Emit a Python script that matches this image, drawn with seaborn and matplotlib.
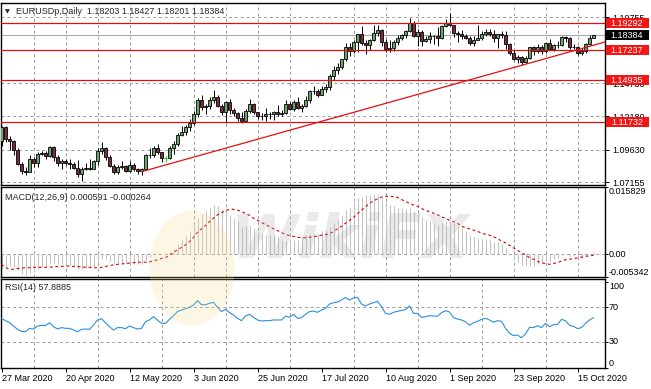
import matplotlib
matplotlib.use("Agg")
import matplotlib.pyplot as plt
import matplotlib.transforms as mtransforms
from matplotlib.patches import Rectangle, Ellipse
import numpy as np
import seaborn as sns

# ---------------- data ----------------
symbol = "EURUSDp,Daily"

opens = [
    1.1030, 1.1140, 1.1045, 1.1030, 1.0965, 1.0855, 1.0805, 1.0795, 1.0890, 1.0860,
    1.0935, 1.0940, 1.0915, 1.0985, 1.0905, 1.0865, 1.0875, 1.0860, 1.0855, 1.0825,
    1.0775, 1.0820, 1.0825, 1.0820, 1.0875, 1.0955, 1.0980, 1.0905, 1.0840, 1.0795,
    1.0830, 1.0840, 1.0805, 1.0850, 1.0815, 1.0805, 1.0820, 1.0920, 1.0925, 1.0975,
    1.0945, 1.0900, 1.0900, 1.0980, 1.1005, 1.1075, 1.1100, 1.1135, 1.1170, 1.1235,
    1.1340, 1.1290, 1.1295, 1.1345, 1.1370, 1.1300, 1.1255, 1.1325, 1.1265, 1.1245,
    1.1205, 1.1180, 1.1260, 1.1310, 1.1250, 1.1220, 1.1218, 1.1240, 1.1235, 1.1250,
    1.1240, 1.1245, 1.1310, 1.1275, 1.1330, 1.1285, 1.1300, 1.1340, 1.1410, 1.1412,
    1.1385, 1.1430, 1.1445, 1.1525, 1.1570, 1.1595, 1.1655, 1.1750, 1.1715, 1.1790,
    1.1845, 1.1778, 1.1760, 1.1800, 1.1855, 1.1875, 1.1785, 1.1735, 1.1740, 1.1785,
    1.1815, 1.1840, 1.1870, 1.1930, 1.1835, 1.1860, 1.1795, 1.1810, 1.1835, 1.1830,
    1.1820, 1.1905, 1.1935, 1.1915, 1.1855, 1.1850, 1.1835, 1.1815, 1.1780, 1.1800,
    1.1815, 1.1845, 1.1865, 1.1845, 1.1815, 1.1850, 1.1840, 1.1770, 1.1705, 1.1660,
    1.1670, 1.1630, 1.1665, 1.1745, 1.1720, 1.1750, 1.1715, 1.1780, 1.1735, 1.1760,
    1.1762, 1.1825, 1.1815, 1.1745, 1.1748, 1.1705, 1.1718, 1.1768, 1.18203,
]
highs = [
    1.1148, 1.1145, 1.1070, 1.1040, 1.0975, 1.0870, 1.0830, 1.0925, 1.0905, 1.0950,
    1.0955, 1.0955, 1.0990, 1.0990, 1.0925, 1.0895, 1.0895, 1.0890, 1.0870, 1.0885,
    1.0830, 1.0860, 1.0890, 1.0885, 1.0975, 1.1019, 1.0985, 1.0925, 1.0855, 1.0845,
    1.0875, 1.0850, 1.0875, 1.0865, 1.0825, 1.0825, 1.0930, 1.0975, 1.0995, 1.1010,
    1.0950, 1.0915, 1.0995, 1.1030, 1.1090, 1.1147, 1.1155, 1.1195, 1.1257, 1.1362,
    1.1384, 1.1310, 1.1365, 1.1422, 1.1385, 1.1310, 1.1335, 1.1350, 1.1285, 1.1255,
    1.1255, 1.1275, 1.1349, 1.1320, 1.1255, 1.1245, 1.1285, 1.1255, 1.1260, 1.1303,
    1.1265, 1.1345, 1.1330, 1.1345, 1.1370, 1.1315, 1.1375, 1.1420, 1.1452, 1.1430,
    1.1450, 1.1468, 1.1540, 1.1600, 1.1625, 1.1660, 1.1780, 1.1775, 1.1805, 1.1845,
    1.1908, 1.1805, 1.1810, 1.1915, 1.1916, 1.1885, 1.1810, 1.1805, 1.1800, 1.1840,
    1.1845, 1.1880, 1.1966, 1.1950, 1.1885, 1.1880, 1.1835, 1.1865, 1.1840, 1.1900,
    1.1915, 1.1965, 1.2011, 1.1920, 1.1870, 1.1880, 1.1850, 1.1830, 1.1830, 1.1917,
    1.1870, 1.1885, 1.1885, 1.1880, 1.1850, 1.1870, 1.1873, 1.1780, 1.1725, 1.1690,
    1.1680, 1.1680, 1.1745, 1.1755, 1.1770, 1.1765, 1.1790, 1.1810, 1.1770, 1.1795,
    1.1830, 1.1830, 1.1825, 1.1770, 1.1755, 1.1740, 1.1780, 1.1840, 1.18427,
]
lows = [
    1.0990, 1.1020, 1.0960, 1.0925, 1.0850, 1.0775, 1.0770, 1.0790, 1.0830, 1.0830,
    1.0920, 1.0890, 1.0905, 1.0880, 1.0840, 1.0815, 1.0845, 1.0815, 1.0820, 1.0755,
    1.0727, 1.0810, 1.0810, 1.0815, 1.0845, 1.0935, 1.0885, 1.0830, 1.0780, 1.0780,
    1.0815, 1.0790, 1.0795, 1.0805, 1.0775, 1.0770, 1.0810, 1.0900, 1.0905, 1.0935,
    1.0870, 1.0870, 1.0890, 1.0935, 1.0990, 1.1065, 1.1080, 1.1110, 1.1155, 1.1215,
    1.1265, 1.1240, 1.1275, 1.1320, 1.1290, 1.1230, 1.1168, 1.1240, 1.1220, 1.1185,
    1.1168, 1.1175, 1.1245, 1.1240, 1.1200, 1.1190, 1.1185, 1.1200, 1.1190, 1.1225,
    1.1225, 1.1240, 1.1265, 1.1260, 1.1275, 1.1255, 1.1290, 1.1320, 1.1390, 1.1370,
    1.1380, 1.1405, 1.1420, 1.1495, 1.1540, 1.1580, 1.1640, 1.1680, 1.1700, 1.1710,
    1.1760, 1.1695, 1.1725, 1.1795, 1.1835, 1.1755, 1.1710, 1.1710, 1.1715, 1.1765,
    1.1800, 1.1815, 1.1860, 1.1825, 1.1755, 1.1755, 1.1785, 1.1780, 1.1770, 1.1755,
    1.1810, 1.1900, 1.1910, 1.1825, 1.1790, 1.1810, 1.1810, 1.1765, 1.1755, 1.1800,
    1.1800, 1.1835, 1.1830, 1.1790, 1.1737, 1.1820, 1.1735, 1.1685, 1.1650, 1.1625,
    1.1612, 1.1625, 1.1655, 1.1685, 1.1700, 1.1695, 1.1705, 1.1730, 1.1720, 1.1740,
    1.1755, 1.1790, 1.1735, 1.1735, 1.1690, 1.1690, 1.1705, 1.1760, 1.18201,
]
closes = [
    1.1140, 1.1045, 1.1030, 1.0965, 1.0855, 1.0805, 1.0795, 1.0890, 1.0860, 1.0935,
    1.0940, 1.0915, 1.0985, 1.0905, 1.0865, 1.0875, 1.0860, 1.0855, 1.0825, 1.0775,
    1.0820, 1.0825, 1.0820, 1.0875, 1.0955, 1.0980, 1.0905, 1.0840, 1.0795, 1.0830,
    1.0840, 1.0805, 1.0850, 1.0815, 1.0805, 1.0820, 1.0920, 1.0925, 1.0975, 1.0945,
    1.0900, 1.0900, 1.0980, 1.1005, 1.1075, 1.1100, 1.1135, 1.1170, 1.1235, 1.1340,
    1.1290, 1.1295, 1.1345, 1.1370, 1.1300, 1.1255, 1.1325, 1.1265, 1.1245, 1.1205,
    1.1180, 1.1260, 1.1310, 1.1250, 1.1220, 1.1218, 1.1240, 1.1235, 1.1250, 1.1240,
    1.1245, 1.1310, 1.1275, 1.1330, 1.1285, 1.1300, 1.1340, 1.1410, 1.1412, 1.1385,
    1.1430, 1.1445, 1.1525, 1.1570, 1.1595, 1.1655, 1.1750, 1.1715, 1.1790, 1.1845,
    1.1778, 1.1760, 1.1800, 1.1855, 1.1875, 1.1785, 1.1735, 1.1740, 1.1785, 1.1815,
    1.1840, 1.1870, 1.1930, 1.1835, 1.1860, 1.1795, 1.1810, 1.1835, 1.1830, 1.1820,
    1.1905, 1.1935, 1.1915, 1.1855, 1.1850, 1.1835, 1.1815, 1.1780, 1.1800, 1.1815,
    1.1845, 1.1865, 1.1845, 1.1815, 1.1850, 1.1840, 1.1770, 1.1705, 1.1660, 1.1670,
    1.1630, 1.1665, 1.1745, 1.1720, 1.1750, 1.1715, 1.1780, 1.1735, 1.1760, 1.1762,
    1.1825, 1.1815, 1.1745, 1.1748, 1.1705, 1.1718, 1.1768, 1.1820, 1.18384,
]

macd_main = [
    -0.0036, -0.0031, -0.0028, -0.0030, -0.0038, -0.0046, -0.0049, -0.0044, -0.0041, -0.0035,
    -0.0030, -0.0027, -0.0021, -0.0020, -0.0022, -0.0023, -0.0025, -0.0026, -0.0029, -0.0034,
    -0.0034, -0.0033, -0.0032, -0.0028, -0.0020, -0.0012, -0.0012, -0.0016, -0.0022, -0.0023,
    -0.0022, -0.0024, -0.0021, -0.0022, -0.0023, -0.0022, -0.0013, -0.0006, 0.0001, 0.0003,
    0.0001, 0.0000, 0.0006, 0.0013, 0.0024, 0.0034, 0.0044, 0.0054, 0.0068, 0.0085,
    0.0094, 0.0102, 0.0110, 0.0116, 0.0114, 0.0107, 0.0103, 0.0093, 0.0084, 0.0078,
    0.0064, 0.0066, 0.0070, 0.0063, 0.0052, 0.0047, 0.0045, 0.0045, 0.0043, 0.0040,
    0.0034, 0.0030, 0.0036, 0.0033, 0.0034, 0.0040, 0.0045, 0.0048, 0.0047, 0.0050,
    0.0054, 0.0057, 0.0065, 0.0074, 0.0082, 0.0092, 0.0105, 0.0112, 0.0123, 0.0133,
    0.0136, 0.0139, 0.0141, 0.0142, 0.0141, 0.0134, 0.0124, 0.0117, 0.0113, 0.0110,
    0.0108, 0.0107, 0.0110, 0.0101, 0.0096, 0.0087, 0.0081, 0.0078, 0.0074, 0.0070,
    0.0073, 0.0078, 0.0079, 0.0073, 0.0067, 0.0061, 0.0054, 0.0046, 0.0041, 0.0038,
    0.0037, 0.0037, 0.0034, 0.0029, 0.0028, 0.0025, 0.0014, 0.0000, -0.0011, -0.0019,
    -0.0026, -0.0029, -0.0028, -0.0027, -0.0024, -0.0023, -0.0017, -0.0015, -0.0011, -0.0009,
    -0.0003, -0.0001, -0.0004, -0.0005, -0.0008, -0.0008, -0.0004, 0.0001, 0.000591,
]
macd_signal = [
    -0.0024, -0.0032, -0.0035, -0.0036, -0.0034, -0.0033, -0.0032, -0.0032, -0.0031, -0.0031,
    -0.0031, -0.0031, -0.0031, -0.0030, -0.0029, -0.0029, -0.0028, -0.0028, -0.0029, -0.0029,
    -0.0030, -0.0031, -0.0031, -0.0032, -0.0032, -0.0031, -0.0029, -0.0027, -0.0025, -0.0024,
    -0.0023, -0.0022, -0.0021, -0.0020, -0.0019, -0.0019, -0.0019, -0.0018, -0.0016, -0.0013,
    -0.0010, -0.0008, -0.0002, 0.0004, 0.0010, 0.0016, 0.0022, 0.0030, 0.0040, 0.0052,
    0.0060, 0.0068, 0.0077, 0.0085, 0.0093, 0.0098, 0.0103, 0.0106, 0.0106, 0.0104,
    0.0101, 0.0096, 0.0092, 0.0085, 0.0080, 0.0075, 0.0070, 0.0065, 0.0060, 0.0056,
    0.0051, 0.0047, 0.0044, 0.0042, 0.0040, 0.0039, 0.0039, 0.0040, 0.0041, 0.0043,
    0.0045, 0.0046, 0.0049, 0.0053, 0.0060, 0.0066, 0.0073, 0.0080, 0.0087, 0.0096,
    0.0104, 0.0112, 0.0120, 0.0126, 0.0131, 0.0135, 0.0137, 0.0137, 0.0136, 0.0134,
    0.0129, 0.0125, 0.0120, 0.0116, 0.0113, 0.0108, 0.0104, 0.0100, 0.0097, 0.0093,
    0.0088, 0.0085, 0.0080, 0.0077, 0.0073, 0.0066, 0.0063, 0.0060, 0.0057, 0.0054,
    0.0050, 0.0047, 0.0045, 0.0041, 0.0037, 0.0031, 0.0027, 0.0021, 0.0015, 0.0009,
    0.0004, -0.0002, -0.0008, -0.0012, -0.0017, -0.0020, -0.0022, -0.0024, -0.0022, -0.0020,
    -0.0016, -0.0013, -0.0012, -0.0010, -0.0009, -0.0007, -0.0005, -0.0004, -0.000264,
]
rsi = [
    57.2, 54.5, 52.2, 48.3, 44.4, 42.1, 41.7, 45.6, 44.8, 48.3,
    49.1, 48.7, 52.2, 47.5, 44.8, 46.4, 45.6, 45.6, 43.6, 41.7,
    44.4, 44.8, 44.4, 49.5, 55.3, 56.8, 52.2, 47.5, 43.6, 46.4,
    46.4, 45.2, 48.3, 46.4, 44.8, 45.6, 53.3, 55.3, 59.1, 55.3,
    51.4, 51.4, 56.0, 60.3, 65.0, 66.9, 68.4, 70.0, 72.7, 77.8,
    73.1, 73.1, 74.7, 75.8, 70.0, 65.0, 67.7, 63.8, 61.1, 57.2,
    54.5, 59.9, 61.9, 58.4, 55.3, 54.1, 54.5, 54.5, 55.3, 55.3,
    55.3, 59.9, 58.4, 61.9, 57.2, 58.0, 61.9, 65.0, 65.7, 64.2,
    66.9, 68.8, 73.9, 75.4, 76.2, 78.5, 81.6, 78.5, 80.9, 81.6,
    73.9, 71.6, 73.9, 75.4, 77.0, 70.8, 63.0, 61.9, 64.2, 65.3,
    66.5, 67.3, 71.6, 63.0, 63.0, 58.4, 59.1, 60.3, 59.9, 59.5,
    63.8, 66.1, 64.6, 58.0, 56.4, 55.3, 53.3, 49.1, 52.2, 53.7,
    56.0, 57.2, 55.3, 52.6, 54.5, 53.7, 45.6, 39.8, 37.1, 37.8,
    34.7, 39.0, 46.7, 46.4, 48.7, 46.4, 51.4, 47.5, 49.8, 50.2,
    56.0, 54.5, 49.1, 47.9, 45.2, 46.4, 51.4, 55.3, 57.8885,
]

levels = [1.19292, 1.17237, 1.14935, 1.11732]
bid = 1.18384
trend_idx = [35, 148]
trend_prices = [1.0796, 1.1762]

price_ticks = [1.07155, 1.09630, 1.12180, 1.14730, 1.17245, 1.19755]
# the 1.17245 label sits completely under the 1.17237 box in the original
price_tick_labels = ["1.07155", "1.09630", "1.12180", "1.14730", "", "1.19755"]
macd_ticks = [-0.005342, 0.0, 0.015829]
macd_tick_labels = ["-0.005342", "0.00", "0.015829"]
rsi_ticks = [0, 30, 70, 100]
date_tick_pos = [0, 16, 32, 48, 64, 80, 96, 112, 128, 144]
date_tick_labels = ["27 Mar 2020", "20 Apr 2020", "12 May 2020", "3 Jun 2020",
                    "25 Jun 2020", "17 Jul 2020", "10 Aug 2020", "1 Sep 2020",
                    "23 Sep 2020", "15 Oct 2020"]

# ---------------- style ----------------
sns.set_style("white")
plt.rcParams["font.family"] = ["Liberation Sans", "DejaVu Sans"]
plt.rcParams["font.size"] = 6.5

FS = 6.5
bull_fill = "#6fa471"
bear_fill = "#7c2c3d"
doji_color = "#19d419"
level_color = "#e01010"
grid_kw = dict(color="#9a9a9a", linestyle=(0, (3, 3)), linewidth=0.7)

W, H = 651, 389
fig = plt.figure(figsize=(W / 100, H / 100), dpi=100)


def panel(top, bottom):
    return fig.add_axes([1 / W, 1 - bottom / H, 604 / W, (bottom - top) / H])


ax_p = panel(3, 184.8)
ax_m = panel(187.2, 276.8)
ax_r = panel(279.3, 367.7)

x = np.arange(len(closes))
o, h, l, c = map(np.array, (opens, highs, lows, closes))
xlim = (-0.125, 150.875)

for ax in (ax_p, ax_m, ax_r):
    ax.set_xlim(*xlim)
    ax.set_xticks(np.arange(8, 150, 8), minor=True)
    ax.grid(which="minor", axis="x", **grid_kw)
    ax.set_axisbelow(True)
    for s in ax.spines.values():
        s.set_color("black")
        s.set_linewidth(1.0)
    ax.yaxis.tick_right()
    ax.tick_params(axis="y", which="major", right=True, left=False, length=3,
                   width=0.7, pad=2, labelsize=FS, colors="black")
    ax.tick_params(axis="x", which="minor", length=0)

for ax in (ax_m, ax_r):
    ax.tick_params(axis="y", which="major", length=2, pad=0.8)

for ax in (ax_p, ax_m):
    ax.tick_params(axis="x", which="both", bottom=False, labelbottom=False)

# ---- price panel ----
ax_p.set_ylim(1.06960, 1.20842)
ax_p.set_yticks(price_ticks)
ax_p.set_yticklabels(price_tick_labels)
ax_p.grid(which="major", axis="y", **grid_kw)

ax_p.axhline(bid, color="#a9a9a9", lw=0.8, zorder=1.5)

up, dn, eq = c > o, c < o, c == o
ax_p.vlines(x[~eq], l[~eq], h[~eq], color="black", lw=0.7, zorder=3)
ax_p.bar(x[up], c[up] - o[up], bottom=o[up], width=0.6, color=bull_fill,
         edgecolor="black", linewidth=0.6, zorder=4)
ax_p.bar(x[dn], o[dn] - c[dn], bottom=c[dn], width=0.6, color=bear_fill,
         edgecolor="black", linewidth=0.6, zorder=4)
ax_p.vlines(x[eq], l[eq], h[eq], color=doji_color, lw=0.8, zorder=4)
ax_p.hlines(o[eq], x[eq] - 0.4, x[eq] + 0.4, color=doji_color, lw=0.8, zorder=4)

for lv in levels:
    ax_p.axhline(lv, color=level_color, lw=0.9, zorder=5)

slope = (trend_prices[1] - trend_prices[0]) / (trend_idx[1] - trend_idx[0])
ax_p.plot([trend_idx[0], xlim[1]],
          [trend_prices[0], trend_prices[0] + slope * (xlim[1] - trend_idx[0])],
          color=level_color, lw=0.9, zorder=5)

# price boxes on the right scale
trans = mtransforms.blended_transform_factory(ax_p.transAxes, ax_p.transData)
unit = (1.20842 - 1.06960) / 181.8
box_x, box_w = 1 + 0.5 / 604, 43 / 604
for lv, fc in [(v, "#f41515") for v in levels] + [(bid, "black")]:
    ax_p.add_patch(Rectangle((box_x, lv - 5 * unit), box_w, 10 * unit, transform=trans,
                             facecolor=fc, edgecolor="none", clip_on=False, zorder=6))
    ax_p.text(box_x + box_w / 2, lv, f"{lv:.5f}", transform=trans, color="white",
              ha="center", va="center", fontsize=FS, zorder=7, clip_on=False)

# ---- MACD panel ----
ax_m.set_ylim(macd_ticks[0], macd_ticks[-1])
ax_m.vlines(x, 0, macd_main, color="#c2c2c2", lw=0.75, zorder=2)
ax_m.axhline(0, zorder=1, **grid_kw)
sns.lineplot(x=x, y=macd_signal, ax=ax_m, color="#d40000", lw=0.8,
             linestyle=(0, (2.5, 2.5)), zorder=3)
ax_m.set_yticks(macd_ticks)
ax_m.set_yticklabels(macd_tick_labels)
for t, va in zip(ax_m.yaxis.get_major_ticks(), ["bottom", "center", "top"]):
    t.label2.set_verticalalignment(va)
ax_m.set_xlabel("")
ax_m.set_ylabel("")

# ---- RSI panel ----
ax_r.set_ylim(-0.2, 102.6)
ax_r.axhline(70, zorder=1, **grid_kw)
ax_r.axhline(30, zorder=1, **grid_kw)
sns.lineplot(x=x, y=rsi, ax=ax_r, color="#2b8fdb", lw=0.8, zorder=3)
ax_r.set_yticks(rsi_ticks)
ax_r.set_yticklabels([str(t) for t in rsi_ticks])
for t, va in zip(ax_r.yaxis.get_major_ticks(), ["bottom", "center", "center", "top"]):
    t.label2.set_verticalalignment(va)
ax_r.set_xticks(date_tick_pos)
ax_r.set_xticklabels(date_tick_labels, ha="left")
ax_r.tick_params(axis="x", which="major", bottom=True, length=3, width=0.7, pad=1.5,
                 labelsize=FS, colors="black")
ax_r.set_xlabel("")
ax_r.set_ylabel("")

# ---- headers ----
fig.text(5 / W, 1 - 12 / H, "\u25bc", fontsize=4.5, va="center",
         family=["DejaVu Sans"])
fig.text(16.5 / W, 1 - 12 / H,
         f"{symbol}  {opens[-1]:.5f} {highs[-1]:.5f} {lows[-1]:.5f} {closes[-1]:.5f}",
         fontsize=FS, va="center")
fig.text(5.3 / W, 1 - 197 / H, f"MACD(12,26,9) {macd_main[-1]:.6f} {macd_signal[-1]:.6f}",
         fontsize=FS, va="center")
fig.text(5.3 / W, 1 - 287.3 / H, f"RSI(14) {rsi[-1]:.4f}", fontsize=FS, va="center")

# ---- faint watermark ----
fig.add_artist(Ellipse((192 / W, 1 - 268 / H), 85 / W, 115 / H, transform=fig.transFigure,
                       facecolor="#f2d98c", edgecolor="none", alpha=0.22))
fig.text(350 / W, 1 - 242 / H, "WikiFX", fontsize=44, fontweight="bold", style="italic",
         color="#b5b5b5", alpha=0.28, ha="center", va="center", family=["DejaVu Sans"])

fig.savefig("out.png", dpi=100)
